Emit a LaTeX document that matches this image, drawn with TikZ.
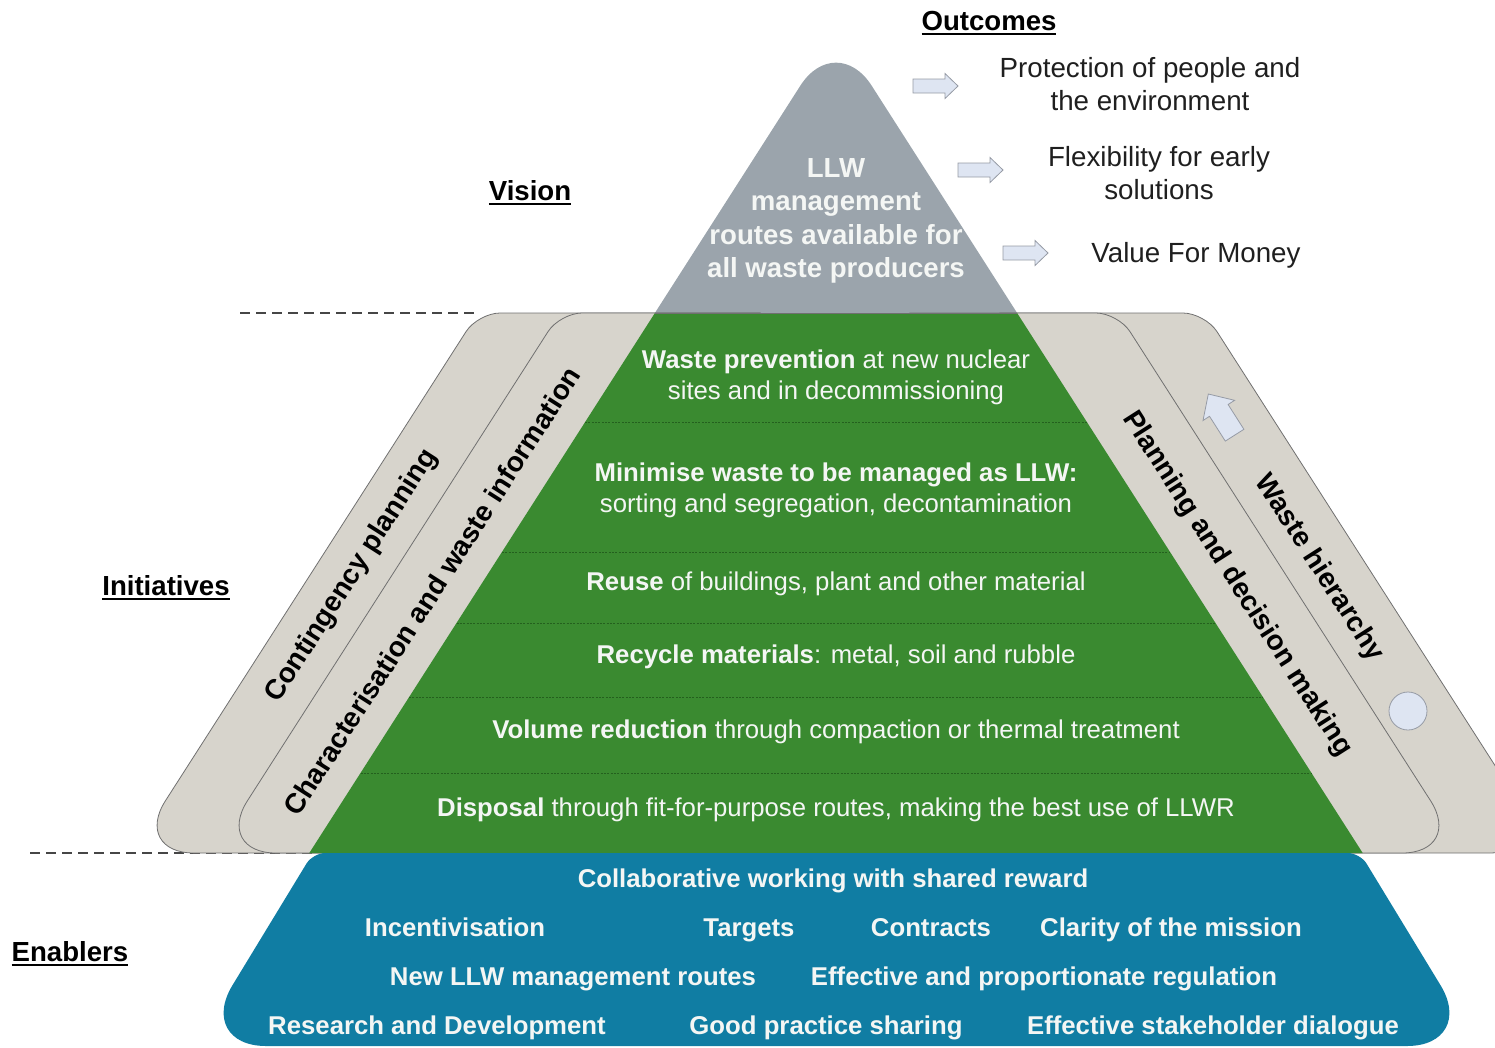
\documentclass[tikz,border=0pt]{standalone}
\usepackage{fontspec}
\setmainfont{Liberation Sans}

\definecolor{visiongrey}{RGB}{155,164,172}
\definecolor{initgreen}{RGB}{58,138,48}
\definecolor{sepgreen}{RGB}{36,96,30}
\definecolor{bandgrey}{RGB}{215,212,204}
\definecolor{bandline}{RGB}{112,112,112}
\definecolor{enablerblue}{RGB}{16,125,163}
\definecolor{arrowfill}{RGB}{222,229,242}
\definecolor{arrowline}{RGB}{150,155,165}
\definecolor{dashgrey}{RGB}{70,70,70}
\definecolor{softwhite}{RGB}{244,246,244}

\newcommand{\headul}[1]{\setbox0\hbox{#1}\rlap{\vrule height -2.4pt depth 4pt width \wd0}\box0}

\tikzset{every picture/.style={line width=0.75pt}}
\tikzset{
  heading/.style={anchor=base, inner sep=0.75pt, text=black, font=\bfseries\fontsize{20.7}{25}\selectfont},
  outcome/.style={inner sep=0.75pt, align=center, text=black!88, font=\fontsize{20.8}{24.75}\selectfont},
  visiontext/.style={inner sep=0.75pt, align=center, text=softwhite, font=\bfseries\fontsize{20.7}{25}\selectfont},
  greentext/.style={inner sep=0.75pt, align=center, text=softwhite, font=\fontsize{19.3}{23.25}\selectfont},
  bluetext/.style={anchor=base, inner sep=0.75pt, text=softwhite, font=\bfseries\fontsize{19.3}{23.25}\selectfont},
  bandtext/.style={inner sep=0.75pt, text=black, font=\bfseries\fontsize{21}{25}\selectfont},
  band/.style={fill=bandgrey, draw=bandline, line width=0.6pt},
  sepline/.style={color=sepgreen, dash pattern={on 1.5pt off 1pt}, line width=0.6pt},
  outarrow/.style={fill=arrowfill, draw=arrowline, line width=0.6pt},
  divider/.style={color=dashgrey, dash pattern={on 7.5pt off 4.5pt}, line width=1.2pt}
}

\begin{document}
\begin{tikzpicture}[x=0.75pt,y=0.75pt,yscale=-1,xscale=1]
\useasboundingbox (0,0) rectangle (1495,1047);
\clip (0,0) rectangle (1495,1047);

%Straight Lines [id:divider top]
\draw [divider] (240,313) -- (480,313) ;
%Straight Lines [id:divider bottom]
\draw [divider] (30,853) -- (312,853) ;

%Shape: Triangle [id:vision]
\fill [visiongrey] (586.4,420) -- (800.4,85.6) .. controls (820,55) and (852,55) .. (871.6,85.6) -- (1085.6,420) -- cycle ;

%Shape: Band [id:contingency]
\draw [band] (500,313) -- (760,313) -- (414,853) -- (194,853) .. controls (160,853) and (147.1,829.4) .. (165.4,800.8) -- (466.1,331.5) .. controls (472.6,321.4) and (488,313) .. (500,313) -- cycle ;
%Shape: Band [id:characterisation]
\draw [band] (582,313) -- (760,313) -- (414,853) -- (276,853) .. controls (242,853) and (229.1,829.4) .. (247.4,800.8) -- (548.1,331.5) .. controls (554.6,321.4) and (570,313) .. (582,313) -- cycle ;
%Shape: Band [id:hierarchy]
\draw [band] (1000,313) -- (1183,313) .. controls (1195,313) and (1210.4,321.4) .. (1216.9,331.5) -- (1517.6,800.8) .. controls (1535.9,829.4) and (1523,853) .. (1489,853) -- (1346,853) -- cycle ;
%Shape: Band [id:planning]
\draw [band] (910,313) -- (1096,313) .. controls (1108,313) and (1123.4,321.4) .. (1129.9,331.5) -- (1430.6,800.8) .. controls (1448.9,829.4) and (1436,853) .. (1402,853) -- (1256,853) -- cycle ;

%Shape: Trapezoid [id:initiatives]
\fill [initgreen] (654.9,313) -- (1017.1,313) -- (1362.7,853) -- (309.3,853) -- cycle ;
\draw [color=bandline, line width=0.6pt] (654.9,313) -- (1017.1,313) ;
%Straight Lines [id:layers]
\draw [sepline] (585.1,422) -- (1086.9,422) ;
\draw [sepline] (501.9,552) -- (1170.1,552) ;
\draw [sepline] (456.5,623) -- (1215.5,623) ;
\draw [sepline] (409.1,697) -- (1262.9,697) ;
\draw [sepline] (360.5,773) -- (1311.5,773) ;

%Shape: Trapezoid [id:enablers]
\fill [enablerblue] (325,853) -- (1348,853) .. controls (1354.6,853) and (1362.9,857.9) .. (1366.3,863.2) -- (1440.5,985.2) .. controls (1460.6,1018.1) and (1445.5,1046) .. (1407,1046) -- (266,1046) .. controls (227.5,1046) and (212.4,1018.1) .. (232.5,985.2) -- (306.7,863.2) .. controls (310.1,857.9) and (318.4,853) .. (325,853) -- cycle ;

%Shape: Right Arrow [id:to protection]
\draw [outarrow] (913,79) -- (945,79) -- (945,73.5) -- (958,86) -- (945,98.5) -- (945,93) -- (913,93) -- cycle ;
%Shape: Right Arrow [id:to flexibility]
\draw [outarrow] (958,163) -- (990,163) -- (990,157.5) -- (1003,170) -- (990,182.5) -- (990,177) -- (958,177) -- cycle ;
%Shape: Right Arrow [id:to value]
\draw [outarrow] (1003,246) -- (1035,246) -- (1035,240.5) -- (1048,253) -- (1035,265.5) -- (1035,260) -- (1003,260) -- cycle ;
%Shape: Up Arrow [id:hierarchy arrow]
\draw [outarrow] (1208.3,394) -- (1234.6,400.3) -- (1228.1,404.5) -- (1243.9,429.3) -- (1225.3,441.1) -- (1209.5,416.3) -- (1203,420.5) -- cycle ;
%Shape: Circle [id:hierarchy end]
\draw [outarrow] (1408,711) circle [radius=19] ;

% Text Node
\node (outhead) [heading] at (989,30) {\headul{Outcomes}};
% Text Node
\node (vishead) [heading] at (530,200) {\headul{Vision}};
% Text Node
\node (inihead) [heading] at (166,595) {\headul{Initiatives}};
% Text Node
\node (enahead) [heading] at (70,961) {\headul{Enablers}};

% Text Node
\node (llw) [visiontext] at (836,221) {LLW\\management\\routes available for\\all waste producers};
% Text Node
\node (protect) [outcome] at (1150,84.5) {Protection of people and\\the environment};
% Text Node
\node (flex) [outcome] at (1159,173.5) {Flexibility for early\\solutions};
% Text Node
\node (vfm) [outcome] at (1196,255) {Value For Money};

% Text Node
\node (prevent) [greentext] at (836,377) {\textbf{Waste prevention} at new nuclear\\sites and in decommissioning};
% Text Node
\node (minimise) [greentext] at (836,490.5) {\textbf{Minimise waste to be managed as LLW:}\\sorting and segregation, decontamination};
% Text Node
\node (reuse) [greentext] at (836,584) {\textbf{Reuse} of buildings, plant and other material};
% Text Node
\node (recycle) [greentext] at (836,657) {\textbf{Recycle materials}: metal, soil and rubble};
% Text Node
\node (volume) [greentext] at (836,732) {\textbf{Volume reduction} through compaction or thermal treatment};
% Text Node
\node (disposal) [greentext] at (836,810) {\textbf{Disposal} through fit-for-purpose routes, making the best use of LLWR};

% Text Node
\node (contingency) [bandtext, rotate=57.4] at (352,576) {Contingency planning};
% Text Node
\node (charact) [bandtext, rotate=57.4] at (432,591) {Characterisation and waste information};
% Text Node
\node (planning) [bandtext, rotate=-57.4] at (1237,584) {Planning and decision making};
% Text Node
\node (hierarchy) [bandtext, rotate=-57.4] at (1319,568) {Waste hierarchy};

% Text Node
\node (collab) [bluetext] at (833,887.4) {Collaborative working with shared reward};
% Text Node
\node (incent) [bluetext] at (455,936.4) {Incentivisation};
% Text Node
\node (targets) [bluetext] at (749,936.4) {Targets};
% Text Node
\node (contracts) [bluetext] at (931,936.4) {Contracts};
% Text Node
\node (clarity) [bluetext] at (1171,936.4) {Clarity of the mission};
% Text Node
\node (newroutes) [bluetext] at (573,985.4) {New LLW management routes};
% Text Node
\node (regulation) [bluetext] at (1044,985.4) {Effective and proportionate regulation};
% Text Node
\node (research) [bluetext] at (437,1034.4) {Research and Development};
% Text Node
\node (goodpractice) [bluetext] at (826,1034.4) {Good practice sharing};
% Text Node
\node (dialogue) [bluetext] at (1213,1034.4) {Effective stakeholder dialogue};

\end{tikzpicture}
\end{document}
